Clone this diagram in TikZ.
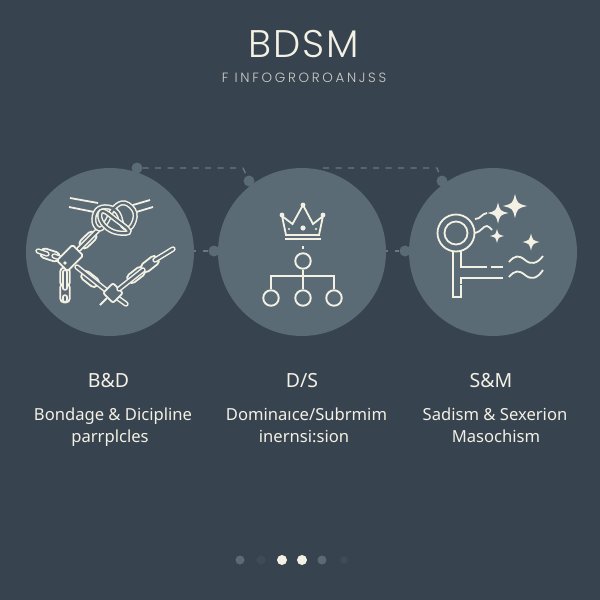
\documentclass[tikz,border=0pt]{standalone}
\usepackage{fontspec}
\setmainfont{Noto Sans}
\newfontfamily\titlefont[LetterSpace=5]{Poppins Light}
\newfontfamily\subfont[LetterSpace=20]{Poppins Light}
\usetikzlibrary{positioning}
\definecolor{slatebg}{HTML}{37444F}
\definecolor{discfill}{HTML}{5A6B76}
\definecolor{dashgrey}{HTML}{68787F}
\definecolor{cream}{HTML}{F3F0E4}
\definecolor{faintdot}{HTML}{3F4C57}

\newcommand{\sparkle}[3]{\fill[cream,shift={(#1,#2)},scale=#3] (0,-1) .. controls (.2,-.2) .. (1,0) .. controls (.2,.2) .. (0,1) .. controls (-.2,.2) .. (-1,0) .. controls (-.2,-.2) .. cycle;}
\newcommand{\widelink}[3]{\draw[iconline,fill=discfill,shift={(#1,#2)},rotate=#3,rounded corners=4] (-9.5,-4.8) rectangle (9.5,4.8);}

\tikzset{
	disc/.style={circle,fill=discfill,minimum size=168,inner sep=0},
	joint/.style={circle,fill=discfill,minimum size=11,inner sep=0},
	pagedot/.style={circle,minimum size=#1,inner sep=0},
	iconline/.style={draw=cream,line width=1.8,fill=none},
	barline/.style={draw=cream,line width=1.5,double=discfill,double distance=2.4,line cap=round},
	knotline/.style={draw=cream,line width=1.5,double=discfill,double distance=2.2},
	orgnode/.style={circle,draw=cream,line width=1.9,minimum size=15.5,inner sep=0,outer sep=1.6},
	dashline/.style={draw=dashgrey,line width=1.3,dash pattern=on 6 off 6.5},
	heading/.style={text=cream,anchor=base,font=\fontsize{19.5}{22}\selectfont},
	body/.style={text=cream,anchor=base,font=\fontsize{16.6}{19}\selectfont}
}

\begin{document}
\begin{tikzpicture}[x=1pt,y=-1pt]

	\fill[slatebg] (0,0) rectangle (600,600);
	\useasboundingbox (0,0) rectangle (600,600);

	\node[text=cream,anchor=base,font=\titlefont\fontsize{38.5}{42}\selectfont] (title) at (303.5,57) {BDSM};
	\node[text=cream!80!slatebg,anchor=base,font=\subfont\fontsize{13.4}{15}\selectfont] (subtitle) at (304,82) {F INFOGROROANJSS};

	% dots on the discs and the dashes between them
	\node[joint] (topA) at (137,168) {};
	\node[joint] (topB) at (249,181) {};
	\node[joint] (topC) at (442,181) {};
	\node[joint] (sideB) at (214,251) {};
	\node[joint] (sideC) at (405,251) {};
	\coordinate (bendA) at (243,168);
	\coordinate (bendB) at (437,168);
	\coordinate (startB) at (323,168);
	\coordinate (startSideA) at (190,251);
	\coordinate (startSideB) at (382,251);

	\draw[dashline] (topA) -- (bendA) -- (topB);
	\draw[dashline] (startB) -- (bendB) -- (topC);
	\draw[dashline] (startSideA) -- (sideB);
	\draw[dashline] (startSideB) -- (sideC);

	\node[disc] (discA) at (110,252) {};
	\node[disc] (discB) at (302,252) {};
	\node[disc] (discC) at (493,252) {};

	% ropes, chains and knot
	\draw[iconline] (70,198) -- (98,203);
	\draw[iconline] (69,207) -- (94,212);
	\draw[iconline] (133,205) -- (150,200);
	\draw[iconline] (133,213) -- (153,207);

	\widelink{88}{240}{44}
	\draw[barline] (98,230) -- (79,249);

	\widelink{50}{255}{-18}
	\draw[barline] (38,251) -- (47,254);
	\draw[barline] (54,256) -- (60,258);

	\widelink{65}{277}{90}
	\widelink{65}{293}{90}
	\draw[barline] (65,272) -- (65,288);
	\draw[barline] (65,297) -- (65,300);

	\widelink{90}{279}{-38}
	\draw[barline] (77,267) -- (107,291);

	\draw[iconline,fill=discfill,shift={(70,258)},rotate=45,rounded corners=1.5] (-11,-7.5) rectangle (11,7.5);
	\fill[cream] (65,263) circle (1.8);

	\draw[iconline] (100,305) -- (107,298);
	\draw[barline] (115,296) -- (126,304);
	\draw[iconline,fill=discfill,shift={(113,293)},rotate=45,rounded corners=2] (-7,-7) rectangle (7,7);

	\widelink{136}{275}{38}
	\widelink{150}{264}{38}
	\draw[barline] (119,289) -- (143,270);
	\draw[barline] (155,260) -- (173,249);

	\draw[knotline] plot[smooth cycle,tension=.7] coordinates {(94,222) (97,210) (108,207) (118,213) (123,226) (131,227) (135,213) (125,203) (114,208) (107,221) (100,229)};
	\draw[knotline] plot[smooth cycle,tension=.7] coordinates {(103,211) (115,219) (129,231) (119,233) (107,228) (100,218)};

	% crown
	\draw[iconline,line join=miter] (286,235) -- (282,216) -- (292.5,224) -- (303,205) -- (313,224) -- (323,216) -- (319,235) -- cycle;
	\draw[cream,line width=2.4] (285,239) -- (321,239);
	\foreach \x/\y/\s in {282/215/2.4,303/205/2.4,323/215/2.4,303/228/2.6,289/229/1.2,316/229/1.2}
		\fill[cream] (\x,\y) circle (\s);

	% hierarchy
	\draw[cream,line width=1.9] (303,246) -- (303,249);
	\node[orgnode] (orgTop) at (303,261) {};
	\node[orgnode] (orgA) at (271,298) {};
	\node[orgnode] (orgB) at (303,298) {};
	\node[orgnode] (orgC) at (334,298) {};
	\coordinate (orgBar) at (303,276);
	\draw[cream,line width=1.9] (orgTop) -- (orgB);
	\draw[cream,line width=1.9] (orgA) |- (orgBar) -| (orgC);

	% ring with stem and sparkles
	\draw[iconline] (453,251) -- (453,297) -- (461,297) -- (461,285);
	\draw[iconline] (461,251) -- (461,267) -- (487,267);
	\draw[iconline] (491,267) -- (503,267);
	\draw[iconline] (461,284) -- (461,278) -- (503,278);
	\fill[discfill] (456,233) circle (18);
	\draw[iconline] (456,233) circle (18.5);
	\draw[iconline] (456,233) circle (11.5);

	\draw[iconline] (475,219) .. controls (481,219) and (481,214) .. (487,213);
	\draw[iconline] (475,233) .. controls (481,232) and (483,226) .. (487,226) .. controls (490,226) and (490,229) .. (492,230);

	\sparkle{515}{206}{12}
	\sparkle{498}{213}{10.5}
	\sparkle{497}{236}{7}
	\sparkle{531}{242}{8.5}

	\draw[iconline] (509,262) .. controls (515,255) and (519,255) .. (525,260) .. controls (531,265) and (537,264) .. (543,256);
	\draw[iconline] (509,277) .. controls (515,270) and (519,270) .. (525,275) .. controls (531,280) and (537,279) .. (543,270);

	% labels
	\node[heading] (labelA) at (108.5,387) {B\&D};
	\node[heading] (labelB) at (302,387) {D/S};
	\node[heading] (labelC) at (491,387) {S\&M};

	\node[body] (textA) at (113,420) {Bondage \& Dicipline};
	\node[body] (textAb) at (110,442) {parrplcles};
	\node[body] (textB) at (306.5,420) {Dominaıce/Subrmim};
	\node[body] (textBb) at (304,442) {inernsi:sion};
	\node[body] (textC) at (495,420) {Sadism \& Sexerion};
	\node[body] (textCb) at (496,442) {Masochism};

	% page dots
	\node[pagedot=9,fill=discfill] (pageA) at (240,560) {};
	\node[pagedot=9,fill=faintdot] (pageB) at (261,560) {};
	\node[pagedot=10,fill=cream] (pageC) at (282,560) {};
	\node[pagedot=10,fill=cream] (pageD) at (302,560) {};
	\node[pagedot=9,fill=discfill] (pageE) at (322,560) {};
	\node[pagedot=8,fill=faintdot] (pageF) at (344,560) {};

\end{tikzpicture}
\end{document}
